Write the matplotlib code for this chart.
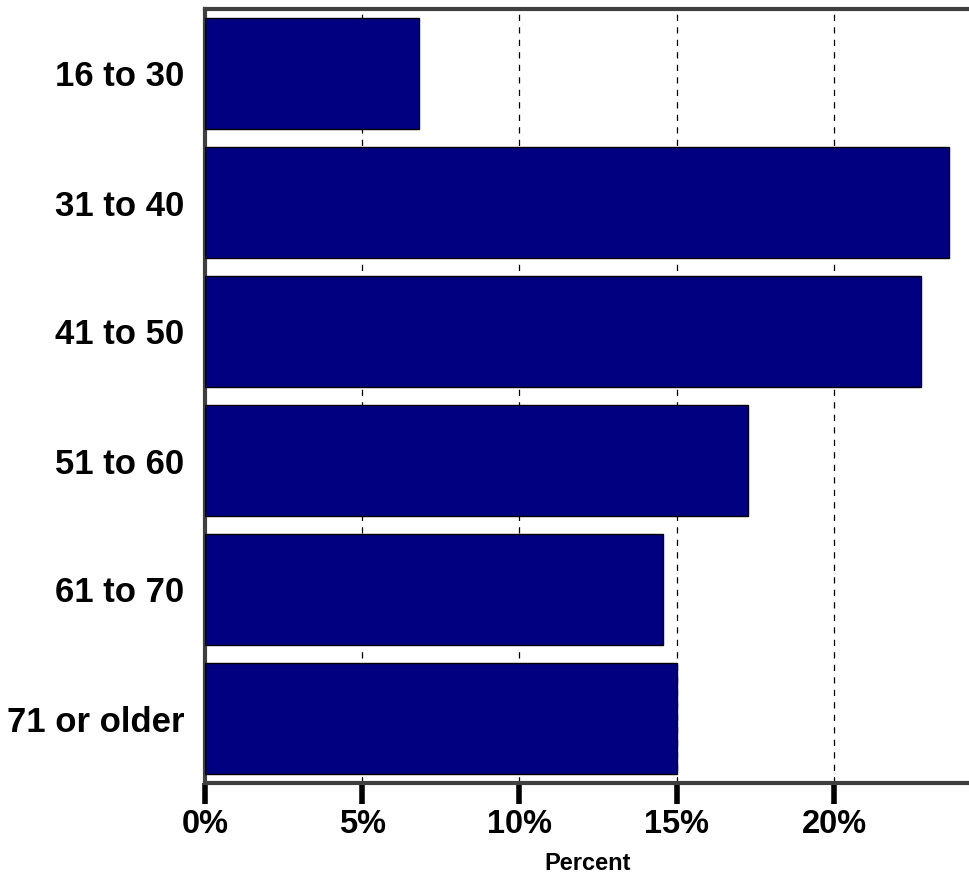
import matplotlib
matplotlib.use("Agg")
import matplotlib.pyplot as plt

categories = ["16 to 30", "31 to 40", "41 to 50", "51 to 60", "61 to 70", "71 or older"]
values = [6.8, 23.66, 22.77, 17.27, 14.56, 15.0]
xticks = [0, 5, 10, 15, 20]
xtick_labels = ["0%", "5%", "10%", "15%", "20%"]

plt.rcParams['font.family'] = ['Liberation Sans', 'DejaVu Sans']

W, H = 970, 875
fig = plt.figure(figsize=(W / 100, H / 100), dpi=100)
left, right, top, bottom = 205, 970, 9, 783
ax = fig.add_axes([left / W, 1 - bottom / H, (right - left) / W, (bottom - top) / H])

y = list(range(len(categories)))
ax.barh(y, values, height=0.853, color="#000080", edgecolor="black", linewidth=1.0, zorder=3)

ax.set_ylim(5.5, -0.5)
ax.set_xlim(0, (right - left) / 31.45)

ax.set_xticks(xticks)
ax.set_xticklabels(xtick_labels, fontsize=23.5, fontweight="bold")
ax.set_yticks(y)
ax.set_yticklabels(categories, fontsize=25, fontweight="bold")

ax.tick_params(axis="x", direction="out", length=15, width=4, color="black", pad=4)
ax.tick_params(axis="y", length=0, pad=15)

for xv in xticks[1:]:
    ax.axvline(xv, color="black", linestyle=(0, (5, 5)), linewidth=0.9, zorder=1)

for side in ["left", "top", "bottom"]:
    ax.spines[side].set_color("#404040")
    ax.spines[side].set_linewidth(3)
ax.spines["right"].set_visible(False)

ax.set_xlabel("Percent", fontsize=17, fontweight="bold", labelpad=8)

fig.savefig("out.png", dpi=100)
